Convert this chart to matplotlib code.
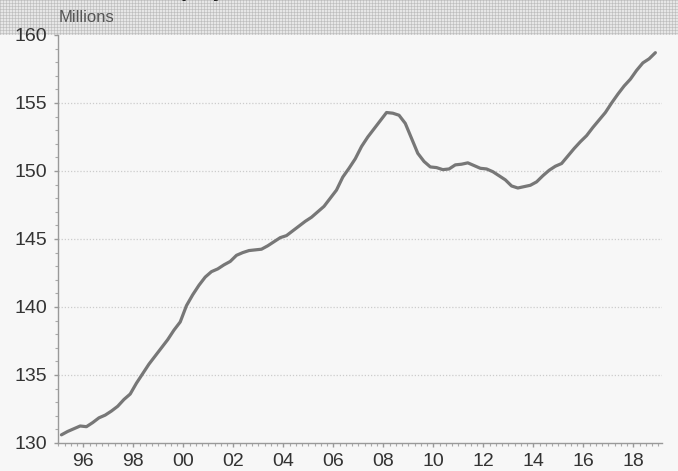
import numpy as np
import matplotlib
matplotlib.use("Agg")
import matplotlib.pyplot as plt
from matplotlib.ticker import MultipleLocator, FixedLocator

# Quarterly values (millions), 1995Q1 .. 2018Q4
years = list(range(1995, 2019))
values = [
    130.6, 130.85, 131.05, 131.25,   # 1995
    131.2, 131.5, 131.85, 132.05,    # 1996
    132.35, 132.7, 133.2, 133.6,     # 1997
    134.4, 135.1, 135.8, 136.4,      # 1998
    137.0, 137.6, 138.3, 138.9,      # 1999
    140.1, 140.9, 141.6, 142.2,      # 2000
    142.6, 142.8, 143.1, 143.35,     # 2001
    143.8, 144.0, 144.15, 144.2,     # 2002
    144.25, 144.5, 144.8, 145.1,     # 2003
    145.25, 145.6, 145.95, 146.3,    # 2004
    146.6, 147.0, 147.4, 148.0,      # 2005
    148.6, 149.55, 150.2, 150.9,     # 2006
    151.8, 152.5, 153.1, 153.7,      # 2007
    154.3, 154.25, 154.1, 153.5,     # 2008
    152.4, 151.3, 150.7, 150.3,      # 2009
    150.25, 150.1, 150.15, 150.45,   # 2010
    150.5, 150.6, 150.4, 150.2,      # 2011
    150.15, 149.95, 149.65, 149.35,  # 2012
    148.9, 148.75, 148.85, 148.95,   # 2013
    149.2, 149.65, 150.05, 150.35,   # 2014
    150.55, 151.1, 151.65, 152.15,   # 2015
    152.6, 153.2, 153.75, 154.3,     # 2016
    155.0, 155.65, 156.25, 156.75,   # 2017
    157.4, 157.95, 158.25, 158.7,    # 2018
]
quarter_offsets = [0.125, 0.375, 0.625, 0.875]
x_tick_years = [1996, 1998, 2000, 2002, 2004, 2006, 2008, 2010, 2012, 2014, 2016, 2018]
x_tick_labels = ["96", "98", "00", "02", "04", "06", "08", "10", "12", "14", "16", "18"]
y_ticks = [130, 135, 140, 145, 150, 155, 160]
unit_label = "Millions"
title = "Employment"

x = [y + q for y in years for q in quarter_offsets]

plt.rcParams['font.family'] = ['Liberation Sans', 'DejaVu Sans']

W, H = 678, 471
fig = plt.figure(figsize=(W / 100, H / 100), dpi=100)
fig.patch.set_facecolor('#f7f7f7')

# Hatched header band
band_h = 35
bax = fig.add_axes([0, 1 - band_h / H, 1, band_h / H])
ii, jj = np.indices((band_h, W))
pat = np.full((band_h, W), 0.90)
pat[(ii % 3) == 0] = 0.80
pat[(jj % 3) == 0] = 0.80
pat[((ii % 3) == 0) & ((jj % 3) == 0)] = 0.74
bax.imshow(pat, cmap='gray', vmin=0, vmax=1, aspect='auto', interpolation='nearest')
bax.axis('off')

fig.text(150 / W, 1 + 2.5 / H, title, fontsize=13, fontweight='bold',
         color='#222222', ha='left', va='baseline', family='DejaVu Sans')
fig.text(59 / W, 1 - 17 / H, unit_label, fontsize=12, color='#555555',
         ha='left', va='center')

left, right = 58.3 / W, 662 / W
bottom, top = 1 - 443 / H, 1 - 35 / H
ax = fig.add_axes([left, bottom, right - left, top - bottom])
ax.set_facecolor('#f7f7f7')

ax.plot(x, values, color='#777777', lw=2.3, solid_capstyle='round', zorder=3)

ax.set_xlim(1995, 2019.14)
ax.set_ylim(130, 160)

ax.xaxis.set_major_locator(FixedLocator(x_tick_years))
ax.set_xticklabels(x_tick_labels)
ax.xaxis.set_minor_locator(MultipleLocator(0.25))
ax.yaxis.set_major_locator(FixedLocator(y_ticks))
ax.yaxis.set_minor_locator(MultipleLocator(1))

for s in ['top', 'right']:
    ax.spines[s].set_visible(False)
for s in ['left', 'bottom']:
    ax.spines[s].set_color('#999999')
    ax.spines[s].set_linewidth(1.0)

ax.tick_params(axis='both', which='major', direction='out', length=3,
               width=1, color='#999999', labelsize=14, labelcolor='#333333')
ax.tick_params(axis='both', which='minor', direction='out', length=2,
               width=0.8, color='#aaaaaa')
ax.tick_params(axis='x', which='major', pad=4)
ax.tick_params(axis='y', which='major', pad=5)

for v in y_ticks[1:-1]:
    ax.axhline(v, color='#cccccc', lw=0.9, ls=(0, (1, 1.5)), zorder=1)

fig.savefig('out.png', dpi=100, facecolor=fig.get_facecolor())
